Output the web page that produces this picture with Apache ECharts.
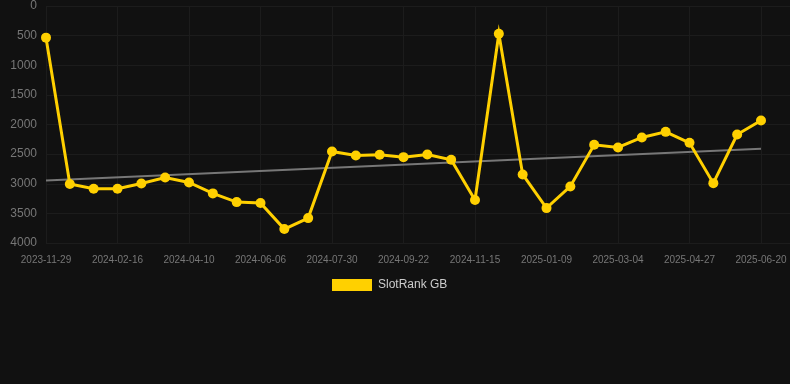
<!DOCTYPE html>
<html>
<head>
<meta charset="utf-8">
<script src="https://cdn.jsdelivr.net/npm/echarts@6/dist/echarts.min.js"></script>
<style>
html,body{margin:0;padding:0;background:#111111;}
#c{width:790px;height:384px;}
</style>
</head>
<body>
<div id="c"></div>
<script>
const dates = [
  '2023-11-29','2024-01-11','2024-01-29','2024-02-16','2024-03-05','2024-03-23',
  '2024-04-10','2024-04-29','2024-05-18','2024-06-06','2024-06-24','2024-07-12',
  '2024-07-30','2024-08-17','2024-09-04','2024-09-22','2024-10-10','2024-10-28',
  '2024-11-15','2024-12-03','2024-12-22','2025-01-09','2025-01-27','2025-02-14',
  '2025-03-04','2025-03-22','2025-04-09','2025-04-27','2025-05-15','2025-06-02',
  '2025-06-20'
];
const slotRankGB = [
  534, 3005, 3085, 3085, 2995, 2895,
  2978, 3163, 3310, 3326, 3765, 3580,
  2455, 2523, 2512, 2551, 2506, 2596,
  3275, 467, 2843, 3411, 3045, 2343,
  2388, 2219, 2124, 2309, 2990, 2169,
  1933
];
const trendStart = 2944;
const trendEnd = 2410;
const yTicks = [0, 500, 1000, 1500, 2000, 2500, 3000, 3500, 4000];

const trendData = dates.map((d, i) => i === 0 ? trendStart : (i === dates.length - 1 ? trendEnd : null));
const font = 'Liberation Sans, Arial, sans-serif';
const gridColor = '#1c1c1c';

const chart = echarts.init(document.getElementById('c'), null, {renderer: 'canvas'});
chart.setOption({
  backgroundColor: '#111111',
  animation: false,
  grid: [
    {left: 46, right: 29, top: 6, bottom: 141, containLabel: false},
    {left: 46, right: 0, top: 6, bottom: 141, containLabel: false}
  ],
  legend: {
    data: [{name: 'SlotRank GB', icon: 'rect'}],
    bottom: 88,
    left: 327,
    itemWidth: 40,
    itemHeight: 12,
    itemGap: 10,
    textStyle: {color: '#cccccc', fontSize: 12, fontFamily: font, padding: [0, 0, 0, 1]}
  },
  xAxis: [
    {
      type: 'category',
      gridIndex: 0,
      data: dates,
      boundaryGap: false,
      axisLine: {show: false},
      axisTick: {show: false},
      axisLabel: {interval: 2, color: '#777777', fontSize: 10, margin: 12, fontFamily: font},
      splitLine: {show: true, interval: 2, lineStyle: {color: gridColor, width: 1}}
    },
    {
      type: 'value',
      gridIndex: 1,
      min: 0,
      max: 1,
      show: false
    }
  ],
  yAxis: [
    {
      type: 'value',
      gridIndex: 0,
      inverse: true,
      min: yTicks[0],
      max: yTicks[yTicks.length - 1],
      interval: 500,
      axisLine: {show: false},
      axisTick: {show: false},
      axisLabel: {color: '#777777', fontSize: 12, margin: 9, fontFamily: font, formatter: v => String(v)},
      splitLine: {show: false}
    },
    {
      type: 'value',
      gridIndex: 1,
      inverse: true,
      min: yTicks[0],
      max: yTicks[yTicks.length - 1],
      interval: 500,
      axisLine: {show: false},
      axisTick: {show: false},
      axisLabel: {show: false},
      splitLine: {show: true, lineStyle: {color: gridColor, width: 1}},
      z: 0
    }
  ],
  series: [
    {
      name: 'Trend',
      type: 'line',
      xAxisIndex: 0,
      yAxisIndex: 0,
      data: trendData,
      connectNulls: true,
      symbol: 'none',
      lineStyle: {color: '#777777', width: 2},
      z: 1,
      silent: true
    },
    {
      name: 'SlotRank GB',
      type: 'line',
      xAxisIndex: 0,
      yAxisIndex: 0,
      data: slotRankGB,
      symbol: 'circle',
      symbolSize: 10,
      itemStyle: {color: '#FFD000'},
      lineStyle: {color: '#FFD000', width: 3, join: 'miter', miterLimit: 10},
      z: 2
    }
  ]
});
</script>
</body>
</html>
